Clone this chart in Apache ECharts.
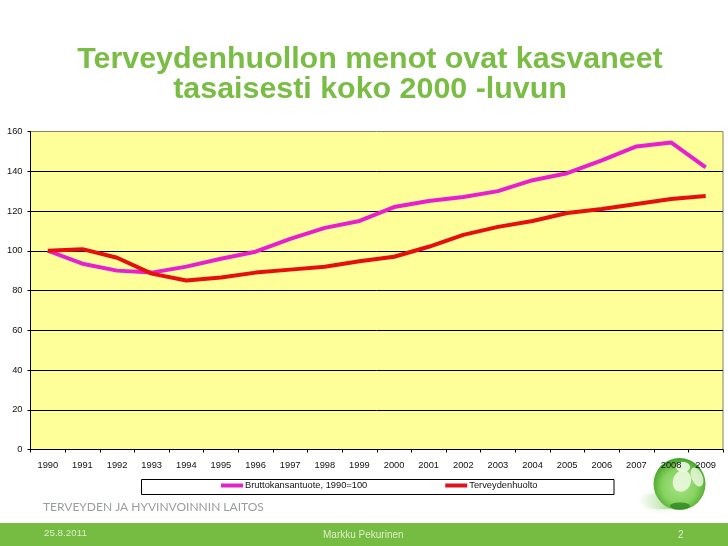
<!DOCTYPE html>
<html><head><meta charset="utf-8">
<style>html,body{margin:0;padding:0;background:#fff}#c{width:728px;height:546px}</style>
<script src="https://cdn.jsdelivr.net/npm/echarts@6/dist/echarts.min.js"></script>
</head><body><div id="c"></div>
<script>
const years=['1990','1991','1992','1993','1994','1995','1996','1997','1998','1999','2000','2001','2002','2003','2004','2005','2006','2007','2008','2009'];
const gdp=[100,93.5,90,89,92,96,99.5,106,111.5,115,122,125,127,130,135.5,139,145.5,152.5,154.5,142];
const health=[100,100.8,96.5,88.5,85,86.5,89,90.5,92,94.7,97,102,108,112,115,119,121,123.5,126,127.5];
const gdpName='Bruttokansantuote, 1990=100';
const healthName='Terveydenhuolto';
const font='"Liberation Sans",Arial,sans-serif';
const chart=echarts.init(document.getElementById('c'),null,{renderer:'canvas'});
chart.setOption({
  animation:false,
  backgroundColor:'#fff',
  title:{text:'Terveydenhuollon menot ovat kasvaneet\ntasaisesti koko 2000 -luvun',left:365,top:39,textAlign:'center',
    textStyle:{color:'#7ABD45',fontFamily:font,fontWeight:'bold',fontSize:30.4,lineHeight:30.6}},
  grid:{left:30.5,right:5,top:131.5,bottom:96.5,show:true,backgroundColor:'#FFFF99',borderColor:'#85855f',borderWidth:1},
  legend:{left:221,top:480,itemWidth:22,itemHeight:4,itemGap:78,padding:[1,0],icon:'rect',
    textStyle:{fontFamily:font,fontSize:9.3,color:'#111',padding:[0,0,0,-3]},
    data:[gdpName,healthName]},
  xAxis:{type:'category',data:years,boundaryGap:true,z:4,
    axisLine:{lineStyle:{color:'#000',width:1}},
    axisTick:{show:true,alignWithLabel:false,length:3,lineStyle:{color:'#000'}},
    axisLabel:{interval:0,fontFamily:font,fontSize:9.3,color:'#111',margin:11},splitLine:{show:false}},
  yAxis:{type:'value',min:0,max:160,interval:20,z:4,
    axisLine:{show:true,lineStyle:{color:'#000',width:1}},
    axisTick:{show:true,length:3,lineStyle:{color:'#000'}},
    axisLabel:{fontFamily:font,fontSize:9.3,color:'#111',margin:8},
    splitLine:{show:true,showMaxLine:false,lineStyle:{color:'#000',width:1}}},
  series:[
    {name:gdpName,type:'line',data:gdp,symbol:'none',z:5,lineStyle:{color:'#E81FD0',width:4},itemStyle:{color:'#DE25C8'}},
    {name:healthName,type:'line',data:health,symbol:'none',z:6,lineStyle:{color:'#E60F0F',width:4},itemStyle:{color:'#DC1420'}}
  ],
  graphic:[
    {type:'rect',z:1,shape:{x:141.5,y:479.5,width:472.5,height:15},style:{fill:'#fff',stroke:'#000',lineWidth:1}},
    {type:'rect',z:1,shape:{x:0,y:523,width:728,height:23},style:{fill:'#76BC43'}},
    {type:'text',z:2,x:43,y:507,style:{text:'TERVEYDEN JA HYVINVOINNIN LAITOS',fill:'#9a9e9b',font:'12px Lato, "Open Sans", sans-serif',textVerticalAlign:'middle'}},
    {type:'text',z:2,x:44,y:533.5,style:{text:'25.8.2011',fill:'#dcedc8',font:'9.8px '+font,textVerticalAlign:'middle'}},
    {type:'text',z:2,x:323,y:535,style:{text:'Markku Pekurinen',fill:'#dcedc8',font:'10px '+font,textVerticalAlign:'middle'}},
    {type:'text',z:2,x:678,y:535,style:{text:'2',fill:'#dcedc8',font:'10px '+font,textVerticalAlign:'middle'}},
    {type:'ellipse',z:1,shape:{cx:662,cy:501,rx:25,ry:8},style:{shadowBlur:5,shadowColor:'rgba(120,190,90,0.35)',fill:{type:'linear',x:0,y:0,x2:1,y2:0,colorStops:[{offset:0,color:'rgba(255,255,255,0)'},{offset:0.45,color:'#cfeabf'},{offset:1,color:'#6db84f'}]}}},
    {type:'circle',z:1,shape:{cx:679.5,cy:484,r:26},style:{fill:{type:'radial',x:0.5,y:0.55,r:0.56,colorStops:[{offset:0,color:'#a9e488'},{offset:0.6,color:'#86d25f'},{offset:0.88,color:'#56b038'},{offset:1,color:'#3c9a2b'}]}}},
    {type:'ellipse',z:1,shape:{cx:680,cy:506,rx:10,ry:3.5},style:{fill:'rgba(40,130,30,0.75)'}},
    {type:'ellipse',z:1,x:683,y:467,rotation:0,shape:{cx:0,cy:0,rx:7,ry:5},style:{fill:'rgba(245,252,238,0.85)'}},
    {type:'ellipse',z:1,x:682,y:481,rotation:-0.35,shape:{cx:0,cy:0,rx:9,ry:11},style:{fill:'rgba(240,250,228,0.85)'}},
    {type:'ellipse',z:1,x:697,y:477,rotation:0.4,shape:{cx:0,cy:0,rx:5.5,ry:10},style:{fill:'rgba(240,250,228,0.8)'}}
  ]
});
</script></body></html>
